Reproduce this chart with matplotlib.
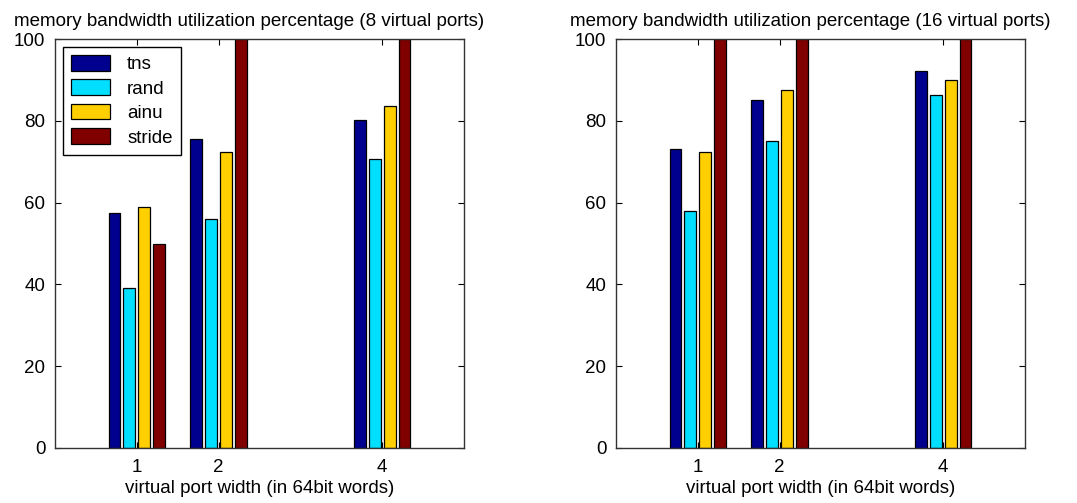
import numpy as np
import matplotlib
matplotlib.use("Agg")
import matplotlib.pyplot as plt

# data
widths = [1, 2, 4]
series = ["tns", "rand", "ainu", "stride"]
colors = ["#00008F", "#00DFFF", "#FFCF00", "#800000"]

# 8 virtual ports
tns_8 = [57.5, 75.5, 80.3]
rand_8 = [39.2, 56.0, 70.6]
ainu_8 = [58.9, 72.4, 83.6]
stride_8 = [50.0, 100.0, 100.0]

# 16 virtual ports
tns_16 = [73.2, 85.1, 92.2]
rand_16 = [57.9, 75.0, 86.3]
ainu_16 = [72.4, 87.5, 90.0]
stride_16 = [100.0, 100.0, 100.0]

titles = ["memory bandwidth utilization percentage (8 virtual ports)",
          "memory bandwidth utilization percentage (16 virtual ports)"]
xlabel = "virtual port width (in 64bit words)"

plt.rcParams["font.family"] = ["Liberation Sans", "DejaVu Sans"]
fs = 13.5

fig = plt.figure(figsize=(10.77, 5.03), dpi=100)
ax1 = fig.add_axes([55 / 1077, 55 / 503, 409 / 1077, 409 / 503])
ax2 = fig.add_axes([616 / 1077, 55 / 503, 409 / 1077, 409 / 503])

# matlab style grouped bars
slot = 4 / 5.5 / 4
bw = 0.8 * slot


def draw(ax, data, title, legend=False):
    x = np.array(widths, dtype=float)
    for i, (vals, name, c) in enumerate(zip(data, series, colors)):
        ax.bar(x + (i - 1.5) * slot, vals, bw, color=c, edgecolor="black",
               linewidth=0.9, label=name, zorder=2)
    ax.set_xlim(0, 5)
    ax.set_ylim(0, 100)
    ax.set_xticks(widths)
    ax.set_yticks(range(0, 101, 20))
    ax.tick_params(direction="in", top=True, right=True, length=4,
                   labelsize=fs, colors="black")
    ax.tick_params(axis="y", pad=7)
    ax.tick_params(axis="x", pad=8)
    for s in ax.spines.values():
        s.set_linewidth(1.0)
        s.set_color("#333333")
    ax.set_title(title, fontsize=fs, pad=9.5, x=0.474)
    ax.set_xlabel(xlabel, fontsize=fs, labelpad=3)
    if legend:
        leg = ax.legend(loc="upper left", fontsize=fs, fancybox=False,
                        edgecolor="black", framealpha=1, borderaxespad=0.4,
                        handlelength=2.1, handleheight=0.9, labelspacing=0.33,
                        borderpad=0.45, handletextpad=0.9)
        leg.get_frame().set_linewidth(1.0)


draw(ax1, [tns_8, rand_8, ainu_8, stride_8], titles[0], legend=True)
draw(ax2, [tns_16, rand_16, ainu_16, stride_16], titles[1])

fig.savefig("out.png", dpi=100)
